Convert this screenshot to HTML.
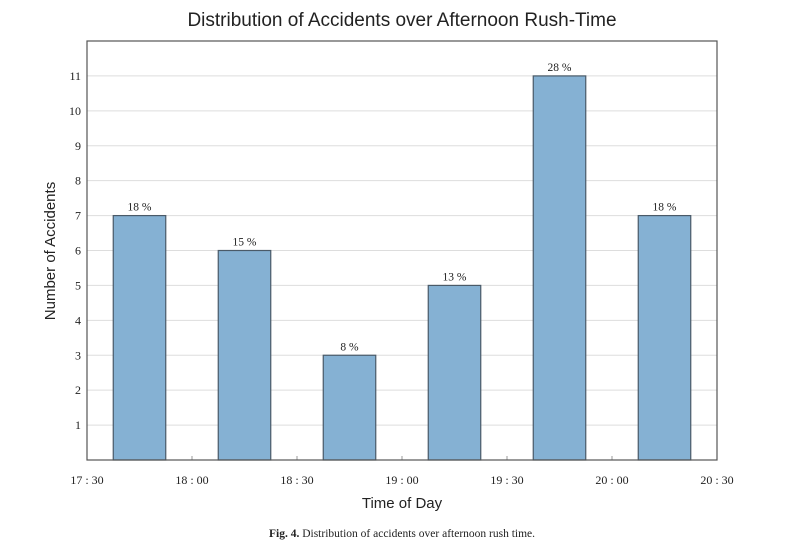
<!DOCTYPE html>
<html><head><meta charset="utf-8"><style>
body{margin:0;background:#fff;width:800px;height:553px;overflow:hidden}
svg text{font-family:"Liberation Serif",serif;fill:#222}
</style></head><body>
<svg id="chart" width="800" height="553" xmlns="http://www.w3.org/2000/svg">
<text x="402" y="26" text-anchor="middle" font-size="19" style="font-family:'Liberation Sans',sans-serif">Distribution of Accidents over Afternoon Rush-Time</text>
<g id="grid"></g><g id="bars"></g><g id="labels"></g><g id="axes"></g>
<text x="402" y="508" text-anchor="middle" font-size="15" style="font-family:'Liberation Sans',sans-serif">Time of Day</text>
<text transform="translate(55,251) rotate(-90)" text-anchor="middle" font-size="15" style="font-family:'Liberation Sans',sans-serif">Number of Accidents</text>
<text x="402" y="537" text-anchor="middle" font-size="11.5"><tspan font-weight="bold">Fig. 4.</tspan> Distribution of accidents over afternoon rush time.</text>
</svg>
<script>
const categories=["17:45","18:15","18:45","19:15","19:45","20:15"];
const counts=[7,6,3,5,11,7];
const percentLabels=["18 %","15 %","8 %","13 %","28 %","18 %"];
const xTickLabels=["17 : 30","18 : 00","18 : 30","19 : 00","19 : 30","20 : 00","20 : 30"];
const yTicks=[1,2,3,4,5,6,7,8,9,10,11];
const NS="http://www.w3.org/2000/svg";
const L=87,R=717,T=41,B=460,YMAX=12;
const y=v=>B-(B-T)*v/YMAX;
const xSlot=i=>L+(R-L)*i/(xTickLabels.length-1);
function mk(t,a,p){const e=document.createElementNS(NS,t);for(const k in a)e.setAttribute(k,a[k]);document.getElementById(p).appendChild(e);return e;}
yTicks.forEach(v=>{
  const g=mk("line",{x1:L,x2:R,y1:y(v),y2:y(v),stroke:"#ddd","stroke-width":1},"grid");
  
  
  const t=mk("text",{x:L-6,y:y(v)+4,"text-anchor":"end","font-size":12},"axes");t.textContent=v;
  
  
});
xTickLabels.forEach((s,i)=>{
  const t=mk("text",{x:xSlot(i),y:484,"text-anchor":"middle","font-size":12},"axes");t.textContent=s;
  
  
  const k=mk("line",{x1:xSlot(i),x2:xSlot(i),y1:B,y2:B-4,stroke:"#999"},"axes");
  
  
});
const slot=(R-L)/(xTickLabels.length-1);
counts.forEach((v,i)=>{
  const cx=L+slot*(i+0.5),w=slot/2;
  const b=mk("rect",{x:cx-w/2,y:y(v),width:w,height:B-y(v),fill:"#85b1d3",stroke:"#4a5a68","stroke-width":1.2},"bars");
  
  
  const t=mk("text",{x:cx,y:y(v)-5,"text-anchor":"middle","font-size":11.5},"labels");t.textContent=percentLabels[i];
  
  
});
const f=mk("rect",{x:L,y:T,width:R-L,height:B-T,fill:"none",stroke:"#555","stroke-width":1.2},"axes");


</script>
</body></html>
